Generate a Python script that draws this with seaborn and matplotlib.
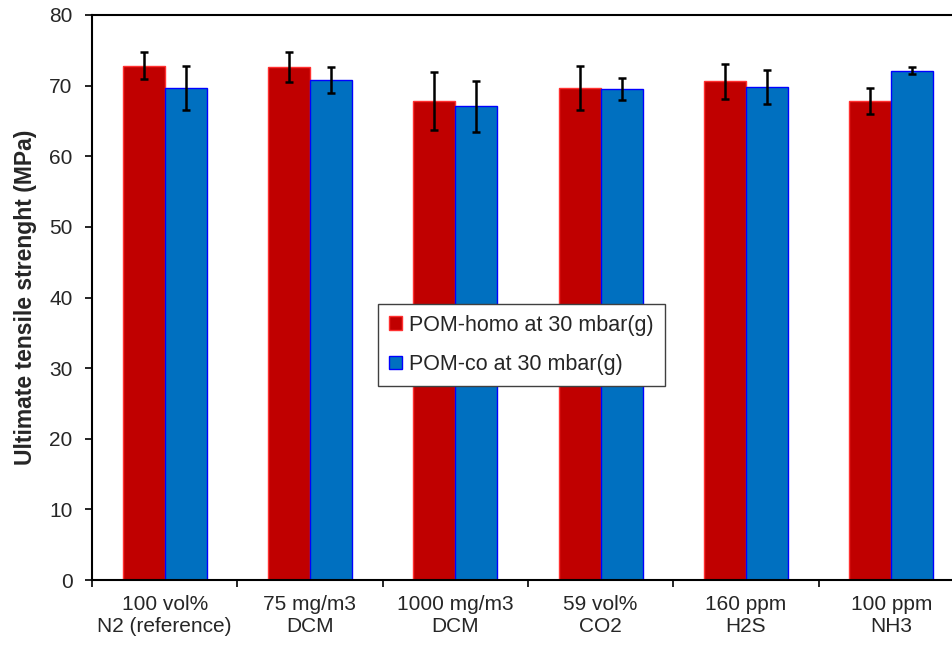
import matplotlib
matplotlib.use("Agg")
import matplotlib.pyplot as plt
import seaborn as sns
import pandas as pd
import numpy as np

categories = ["100 vol%\nN2 (reference)", "75 mg/m3\nDCM", "1000 mg/m3\nDCM",
              "59 vol%\nCO2", "160 ppm\nH2S", "100 ppm\nNH3"]
series_names = ["POM-homo at 30 mbar(g)", "POM-co at 30 mbar(g)"]
homo_values = [72.8, 72.6, 67.8, 69.7, 70.6, 67.8]
homo_errors = [1.9, 2.1, 4.1, 3.1, 2.5, 1.8]
co_values = [69.7, 70.8, 67.1, 69.5, 69.8, 72.1]
co_errors = [3.1, 1.9, 3.6, 1.6, 2.4, 0.5]
y_ticks = [0, 10, 20, 30, 40, 50, 60, 70, 80]

df = pd.DataFrame({
    "category": categories * 2,
    "series": [series_names[0]] * 6 + [series_names[1]] * 6,
    "value": homo_values + co_values,
    "err": homo_errors + co_errors,
})

sns.set_style("white")
plt.rcParams["font.family"] = ["Liberation Sans", "DejaVu Sans"]

FS = 15

fig = plt.figure(figsize=(9.53, 6.48), dpi=100)
ax = fig.add_axes([92 / 953, 1 - 580 / 648, (964 - 92) / 953, (580 - 15) / 648])

palette = {series_names[0]: "#C00000", series_names[1]: "#0070C0"}
sns.barplot(data=df, x="category", y="value", hue="series", palette=palette,
            width=0.58, errorbar=None, ax=ax, saturation=1, order=categories,
            hue_order=series_names)

edge_cols = ["#FF3030", "#0000FF"]
bar_containers = list(ax.containers)
for ci, container in enumerate(bar_containers):
    errs = homo_errors if ci == 0 else co_errors
    vals = homo_values if ci == 0 else co_values
    xs = []
    for p in container.patches:
        p.set_edgecolor(edge_cols[ci])
        p.set_linewidth(1.0)
        xs.append(p.get_x() + p.get_width() / 2)
    ax.errorbar(xs, vals, yerr=errs, fmt="none", ecolor="black",
                elinewidth=1.8, capsize=2.6, capthick=1.8, zorder=5)

ax.set_xlim(-0.5, 5.5)
ax.set_ylim(0, 80)
ax.set_yticks(y_ticks)
ax.set_yticklabels([str(t) for t in y_ticks], fontsize=FS)
ax.set_xticks(np.arange(6))
ax.set_xticklabels(categories, fontsize=FS, linespacing=1.15)
ax.tick_params(axis="x", which="major", length=0, pad=11)
ax.set_xticks(np.arange(-0.5, 6.0, 1.0), minor=True)
ax.tick_params(axis="x", which="minor", direction="out", length=5, width=1.2, color="black", bottom=True)
ax.tick_params(axis="y", direction="out", length=5, width=1.2, color="black", left=True, pad=9)

ax.set_xlabel("")
ax.set_ylabel("Ultimate tensile strenght (MPa)", fontsize=16.5, fontweight="bold", labelpad=9)

for side in ["left", "bottom", "top"]:
    ax.spines[side].set_visible(True)
    ax.spines[side].set_color("black")
    ax.spines[side].set_linewidth(1.5)
ax.spines["right"].set_visible(False)

handles, labels = ax.get_legend_handles_labels()
leg = ax.legend(handles[:2], labels[:2], loc="upper left",
                bbox_to_anchor=((378 - 92) / (964 - 92), (580 - 304) / 565),
                fontsize=15.5, frameon=True, fancybox=False, edgecolor="#404040",
                framealpha=1, facecolor="white",
                handlelength=0.6, handleheight=0.6, handletextpad=0.35,
                labelspacing=0.85, borderpad=0.5, borderaxespad=0)
leg.get_frame().set_linewidth(1.0)
for h, ec in zip(leg.legend_handles, edge_cols):
    h.set_edgecolor(ec)

fig.savefig("out.png", dpi=100)
